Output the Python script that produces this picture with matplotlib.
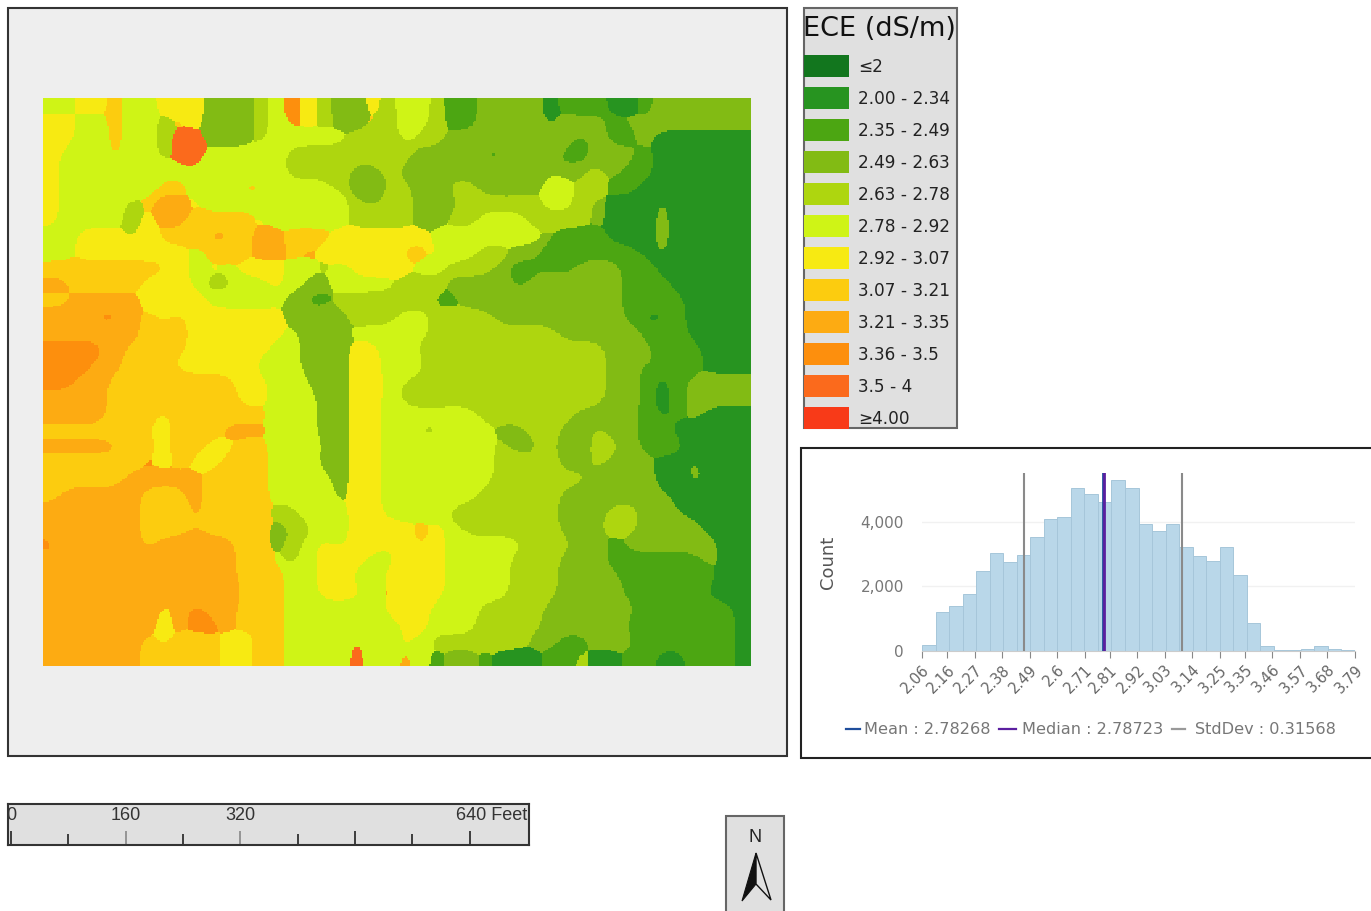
import numpy as np
import matplotlib
matplotlib.use("Agg")
import matplotlib.pyplot as plt
from matplotlib.colors import ListedColormap, BoundaryNorm
from matplotlib.patches import Rectangle, Polygon
from matplotlib.transforms import ScaledTranslation

W, H = 1371, 911

# ---- data -------------------------------------------------------------
legend_title = "ECE (dS/m)"
class_labels = ["≤2", "2.00 - 2.34", "2.35 - 2.49", "2.49 - 2.63", "2.63 - 2.78",
                "2.78 - 2.92", "2.92 - 3.07", "3.07 - 3.21", "3.21 - 3.35",
                "3.36 - 3.5", "3.5 - 4", "≥4.00"]
class_colors = ["#12761e", "#279420", "#4ca612", "#82bb14", "#aed60f", "#cff416",
                "#f7ea12", "#fccc0f", "#fdab12", "#fd8f0d", "#fb6a1c", "#f83a18"]

# class index (hex) of each map cell, top row first
ece_rows = """
5566755666 3334596433 6455422333 3122211233 3333
6655755476 3334596433 7455422333 3133323533 3333
66557554aa 3334555554 4454433333 3332322311 1111
65557554aa 5555544444 4443333223 4322333211 1111
6555555556 5555544443 3433233333 3233432211 1111
6555555775 5577555543 3543344333 3554422111 1111
6555547886 5555555554 3443334444 4554311131 1111
6555546887 7776555554 4443344555 4444311131 1111
5566646777 8878877766 6666555555 5322211131 1111
5566666665 7778878667 6677655443 3222222131 1111
7777777765 6566655456 6665544432 2123332211 1111
8877776665 4455653355 5544433332 3333332221 1111
7788886666 5555532244 4444223333 3333332222 1111
8889987676 6666633334 4455444433 3333332112 1111
8888887776 6666653335 5555444444 4433333222 1111
9999876876 6666553336 6554444444 4444433322 2111
9998877766 6665553336 6555444454 4444433232 2111
9988777777 7766554336 6564444444 4444433212 3333
8888777777 7766555336 6544444444 4444433212 3333
8888777677 7777555336 6555555444 4443333212 3111
7777778677 7888555336 6554455533 4433433221 1111
8888877677 6677555436 6555555543 3433443222 1111
7777779676 6777555336 6555555544 4433433311 3111
7777788888 7777555536 6555555544 4444333311 3111
7888887778 7777555536 6555555444 4433333231 1311
8888887778 7777445556 6555544444 4433344332 1111
8888887776 7777324556 6667654444 4433544333 3111
9888887888 8877345656 6767655555 4443323333 3311
8988888888 8877545666 5566655554 4433322222 2311
8888888888 8877755665 5666655554 4433432222 2211
8888888868 8867755666 5876655554 4433332222 2111
8888888689 8877755555 5666555444 4333333222 2221
8888888689 9876755555 5576555444 4333332222 2221
8888887677 766775555a 5565444444 3322333222 2221
8888887777 766775555a 5585233211 1224112211 2221
"""

hist_counts = [190, 1210, 1380, 1770, 2470, 3030, 2770, 2980, 3540, 4100, 4170,
               5060, 4870, 4610, 5310, 5050, 3930, 3720, 3930, 3220, 2960, 2790,
               3220, 2350, 870, 140, 20, 20, 60, 140, 70, 40]
hist_ticks = [2.06, 2.16, 2.27, 2.38, 2.49, 2.6, 2.71, 2.81, 2.92, 3.03, 3.14,
              3.25, 3.35, 3.46, 3.57, 3.68, 3.79]
hist_yticks = [0, 2000, 4000]
mean_val = 2.78268
median_val = 2.78723
std_val = 0.31568

scale_ticks = [0, 80, 160, 240, 320, 400, 480, 560, 640]
scale_labels = {0: "0", 160: "160", 320: "320"}


def axpx(x0, y0, x1, y1, **kw):
    return fig.add_axes([x0 / W, 1 - y1 / H, (x1 - x0) / W, (y1 - y0) / H], **kw)


def box(v, width):
    pad = width // 2
    kernel = np.ones(2 * pad + 1) / (2 * pad + 1)
    return np.convolve(np.pad(v, pad, mode="edge"), kernel, "valid")


def smooth_classes(cells, n_classes, up=10, passes=3):
    """Round the cell corners: upsample and blur each class mask, keep the strongest class."""
    ny, nx = cells.shape
    yy = (np.arange(ny * up) + 0.5) / up - 0.5
    xx = (np.arange(nx * up) + 0.5) / up - 0.5
    best = np.full((ny * up, nx * up), -1.0)
    out = np.zeros((ny * up, nx * up), dtype=int)
    for k in range(n_classes):
        mask = (cells == k).astype(float)
        if not mask.any():
            continue
        m = np.array([np.interp(xx, np.arange(nx), r) for r in mask])
        m = np.array([np.interp(yy, np.arange(ny), c) for c in m.T]).T
        for _ in range(passes):
            m = np.array([box(r, up) for r in m])
            m = np.array([box(c, up) for c in m.T]).T
        better = m > best
        out[better] = k
        best[better] = m[better]
    return out


fig = plt.figure(figsize=(W / 100, H / 100), dpi=100, facecolor="white")

# page overlay in pixel units, for panel frames and legend
page = axpx(0, 0, W, H)
page.set_xlim(0, W)
page.set_ylim(H, 0)
page.axis("off")
page.add_patch(Rectangle((8, 8), 779, 748, fc="#eeeeee", ec="#333333", lw=1.5))
page.add_patch(Rectangle((803.5, 8), 153.5, 420, fc="#e0e0e0", ec="#666666", lw=1.5))
page.add_patch(Rectangle((801, 448), 575, 310, fc="white", ec="#222222", lw=1.5))

# ---- raster map --------------------------------------------------------
grid = np.array([[int(c, 16) for c in row.replace(" ", "")]
                 for row in ece_rows.strip().splitlines()])
cmap = ListedColormap(class_colors)
norm = BoundaryNorm(np.arange(-0.5, 12.5), cmap.N)
ax_map = axpx(43, 98, 751, 666)
ax_map.imshow(smooth_classes(grid, len(class_labels)), cmap=cmap, norm=norm,
              aspect="auto", interpolation="nearest")
ax_map.axis("off")

# ---- legend ------------------------------------------------------------
page.text(803, 29, legend_title, fontsize=19.5, va="center", ha="left", color="#111111")
for i, (lab, col) in enumerate(zip(class_labels, class_colors)):
    yc = 65.5 + 32 * i
    page.add_patch(Rectangle((804, yc - 11), 45, 22, fc=col, ec="none"))
    page.text(858, yc + 1.5, lab, fontsize=12.2, va="center", ha="left", color="#222222")

# ---- histogram ---------------------------------------------------------
ax_h = axpx(922, 473, 1355, 651)
lo, hi = hist_ticks[0], hist_ticks[-1]
edges = np.linspace(lo, hi, len(hist_counts) + 1)
ax_h.bar(edges[:-1], hist_counts, width=np.diff(edges), align="edge",
         color="#b9d7e9", edgecolor="#a6c6da", linewidth=0.7, zorder=2)
ax_h.set_xlim(lo, hi)
ax_h.set_ylim(0, 5519)
ax_h.set_yticks(hist_yticks)
ax_h.set_yticklabels(["0", "2,000", "4,000"], color="#777777", fontsize=11)
ax_h.set_xticks(hist_ticks)
ax_h.set_xticklabels([f"{t:g}" for t in hist_ticks], rotation=45, ha="right",
                     rotation_mode="anchor", color="#666666", fontsize=10.5)
shift = ScaledTranslation(-6 / 100, 0, fig.dpi_scale_trans)
for lab in ax_h.get_xticklabels():
    lab.set_transform(lab.get_transform() + shift)
ax_h.tick_params(axis="y", length=0, pad=13)
ax_h.tick_params(axis="x", length=5, color="#888888", pad=3)
ax_h.set_axisbelow(True)
ax_h.grid(axis="y", color="#f1f1f1", lw=1)
for s in ["top", "right", "left"]:
    ax_h.spines[s].set_visible(False)
ax_h.spines["bottom"].set_color("#cccccc")
ax_h.set_ylabel("Count", fontsize=13, color="#555555", labelpad=17)
ax_h.axvline(mean_val - std_val, color="#8a8a8a", lw=1.5, zorder=3)
ax_h.axvline(mean_val + std_val, color="#8a8a8a", lw=1.5, zorder=3)
ax_h.axvline(mean_val, color="#1f4e9c", lw=2, zorder=3)
ax_h.axvline(median_val, color="#5b1fa0", lw=2, zorder=4)

# histogram legend line keys and text
for x0, x1, col, txt, tx in [
        (846, 860, "#1f4e9c", f"Mean : {mean_val:.5f}", 864),
        (999, 1016, "#5b1fa0", f"Median : {median_val:.5f}", 1022),
        (1172, 1185, "#999999", f"StdDev : {std_val:.5f}", 1195)]:
    page.plot([x0, x1], [729, 729], color=col, lw=1.6)
    page.text(tx, 729, txt, fontsize=11.6, va="center", ha="left", color="#777777")

# ---- scale bar ---------------------------------------------------------
ax_s = axpx(8, 804, 529, 845)
ax_s.set_facecolor("#e0e0e0")
ax_s.set_xlim(-4.2, 722.6)
ax_s.set_ylim(0, 41)
ax_s.set_xticks([])
ax_s.set_yticks([])
for s in ax_s.spines.values():
    s.set_color("#333333")
    s.set_linewidth(1.5)
for t in scale_ticks:
    ax_s.vlines(t, 0, 14 if t % 160 == 0 else 11,
                color="#888888" if t in (160, 320) else "#222222", lw=1.2)
for t, lab in scale_labels.items():
    ax_s.text(t, 30, lab, fontsize=13, family="Liberation Sans", ha="center", va="center",
              color="#333333", clip_on=False)
ax_s.text(720, 30, "640 Feet", fontsize=13, family="Liberation Sans", ha="right", va="center",
          color="#333333")

# ---- north arrow -------------------------------------------------------
page.add_patch(Rectangle((726, 816), 58, 98, fc="#e0e0e0", ec="#666666", lw=1.5))
page.text(755, 838, "N", fontsize=13, family="Liberation Sans", ha="center", va="center",
          color="#222222")
page.add_patch(Polygon([(756, 853), (742, 901), (756, 884)], fc="#111111", ec="#111111", lw=0.8))
page.add_patch(Polygon([(756, 853), (771, 900), (756, 884)], fc="#e0e0e0", ec="#111111", lw=1))

fig.savefig("out.png", dpi=100, facecolor="white")
